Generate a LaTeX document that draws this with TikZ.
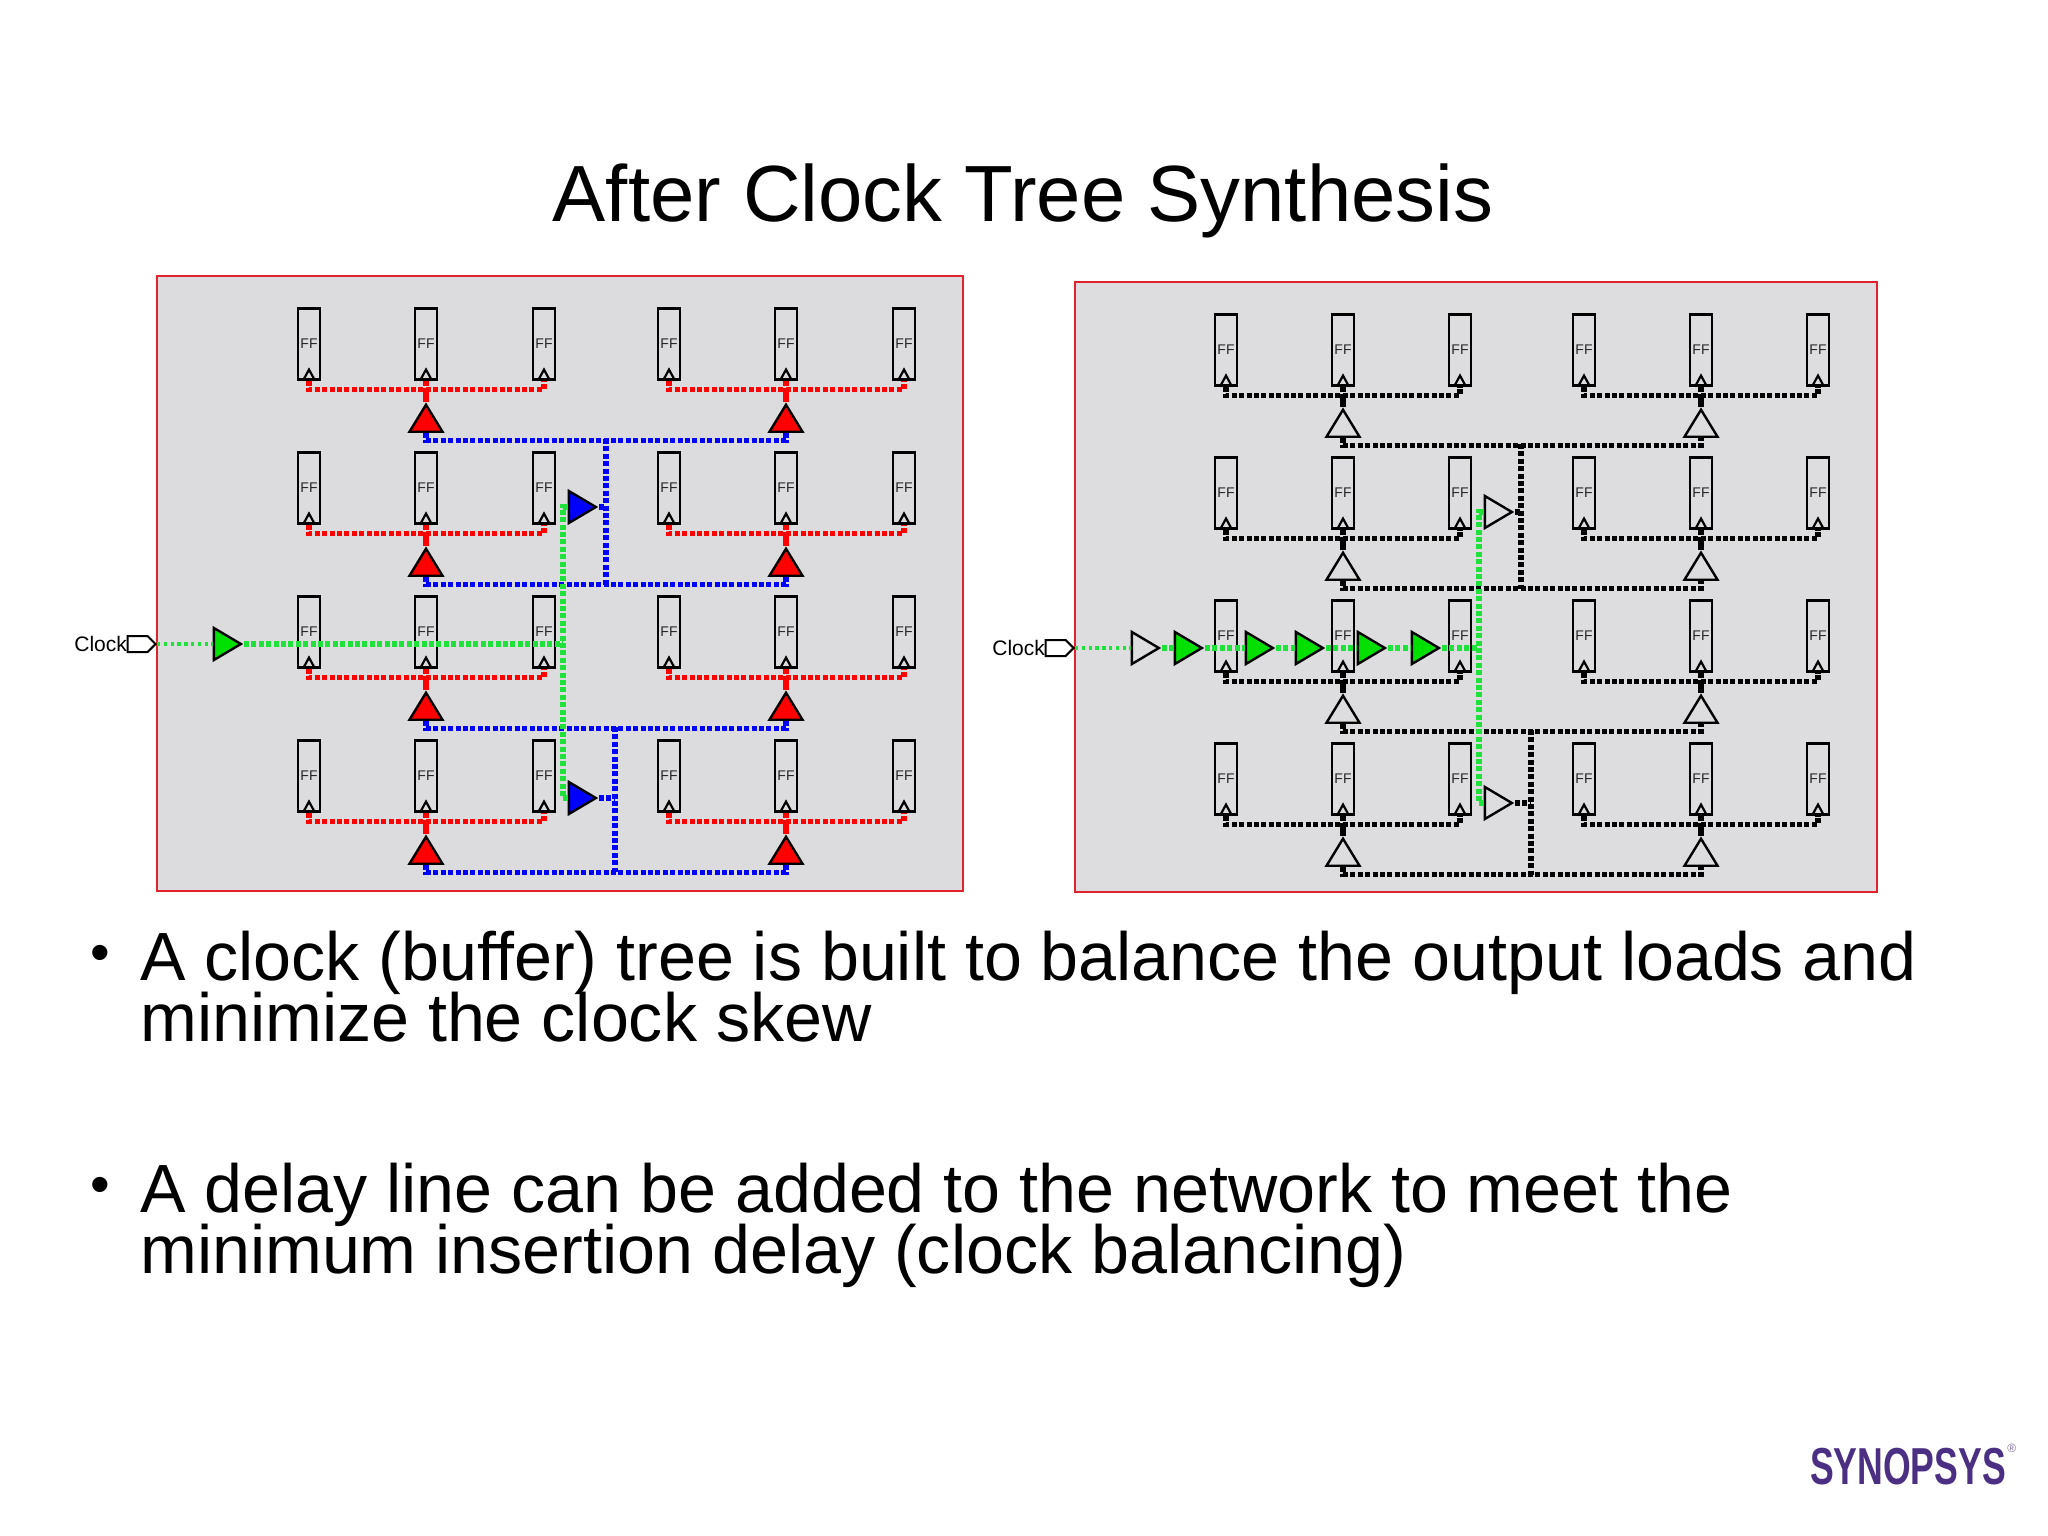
\documentclass[tikz,border=0pt]{standalone}
\usepackage{fontspec}
\setmainfont{Liberation Sans}
\usetikzlibrary{shapes.geometric, shapes.symbols, positioning}

\definecolor{leftpanel}{HTML}{DCDCDE}
\definecolor{rightpanel}{HTML}{DDDDE0}
\definecolor{framered}{HTML}{E0222E}
\definecolor{wiregreen}{HTML}{1EE23A}
\definecolor{bufgreen}{HTML}{00E000}
\definecolor{logopurple}{HTML}{4B2F83}

\tikzset{
    panel/.style={draw=framered, line width=2.5pt},
    ffbox/.style={rectangle, draw=black, line width=2.6pt, anchor=north, inner sep=0pt,
                  minimum width=22pt, minimum height=71pt, text=black!85,
                  font=\fontsize{14}{14}\selectfont},
    ffclk/.style={draw=black, line width=2.2pt},
    buffer/.style={isosceles triangle, isosceles triangle stretches, draw=black, line width=2.4pt,
                   inner sep=0pt, anchor=apex},
    bufup/.style={buffer, shape border rotate=90, minimum width=33pt, minimum height=27pt},
    bufright/.style={buffer, minimum width=32pt, minimum height=27pt},
    wire/.style={line width=5.4pt, dash pattern=on 5pt off 2.4pt},
    stem/.style={line width=5.4pt},
    clkport/.style={signal, signal to=east, draw=black, line width=2pt, inner sep=0pt,
                    minimum width=28pt, minimum height=16pt, anchor=east},
    clklabel/.style={inner sep=0pt, font=\fontsize{21}{21}\selectfont},
    inwire/.style={draw=wiregreen, line width=3.4pt, dash pattern=on 3.4pt off 3.4pt},
    bullettext/.style={anchor=north west, inner sep=0pt, align=left,
                       font=\fontsize{68.2}{61}\selectfont},
    bulletdot/.style={anchor=base west, inner sep=0pt, font=\fontsize{56}{56}\selectfont}
}

\begin{document}
\begin{tikzpicture}[x=1pt, y=-1pt]

    \useasboundingbox (0,0) rectangle (2048,1536);

    % Title
    \node[inner sep=0pt, font=\fontsize{79.7}{80}\selectfont] (title) at (1023,201) {After Clock Tree Synthesis};

    % Panels
    \path[panel, fill=leftpanel] (157,276) rectangle (963,891);
    \path[panel, fill=rightpanel] (1075,282) rectangle (1877,892);

    % Left flip-flops
    \foreach \r/\ytop in {1/307, 2/451, 3/595, 4/739}
        \foreach \c/\x in {1/309, 2/426, 3/544, 4/669, 5/786, 6/904} {
            \node[ffbox] (lff\r\c) at (\x,\ytop) {FF};
            \draw[ffclk] ([xshift=-6pt]lff\r\c.south) -- ([yshift=11pt]lff\r\c.south) -- ([xshift=6pt]lff\r\c.south);
        };

    % Left buffers and leaf wires
    \foreach \r in {1,2,3,4}
        \foreach \a/\b/\c in {1/2/3, 4/5/6} {
            \node[bufup, fill=red] (lbuf\r\b) at ([yshift=-21pt]lff\r\b.south) {};
            \coordinate (lbus\r\b) at ([yshift=-9pt]lff\r\b.south);
            \draw[wire, red] (lff\r\a.south) |- (lbus\r\b) -| (lff\r\c.south);
            \draw[wire, red] (lff\r\b.south) -- (lbus\r\b);
            \draw[stem, red] (lbus\r\b) -- (lbuf\r\b.apex);
        };

    % Left blue level
    \foreach \r in {1,2,3,4}
        \draw[wire, blue] (lbuf\r2.lower side) -- ++(0,7.5) -| (lbuf\r5.lower side);
    \node[bufright, fill=blue] (ldly1) at (599,507) {};
    \node[bufright, fill=blue] (ldly2) at (599,798) {};
    \coordinate (ltap1) at (606,439);
    \coordinate (ltap2) at (606,585);
    \coordinate (ltap3) at (615,727);
    \coordinate (ltap4) at (615,872);
    \draw[wire, blue] (ltap1) -- (ltap2);
    \draw[wire, blue] (ltap3) -- (ltap4);
    \draw[wire, blue] (ldly1.apex) -- (ltap1 |- ldly1.apex);
    \draw[wire, blue] (ldly2.apex) -- (ltap3 |- ldly2.apex);

    % Left clock input
    \node[clkport] (lport) at (157,644) {};
    \node[clklabel, left=-0.5pt of lport] (lclock) {Clock};
    \node[bufright, fill=bufgreen] (lgrn) at (244,644) {};
    \coordinate (lspine) at (563,644);
    \draw[inwire] (lport.east) -- (lgrn.lower side);
    \draw[wire, wiregreen] (lgrn.apex) -- (lspine);
    \draw[wire, wiregreen] (ldly1.lower side) -| (lspine) |- (ldly2.lower side);

    % Right flip-flops
    \foreach \r/\ytop in {1/313, 2/456, 3/599, 4/742}
        \foreach \c/\x in {1/1226, 2/1343, 3/1460, 4/1584, 5/1701, 6/1818} {
            \node[ffbox] (rff\r\c) at (\x,\ytop) {FF};
            \draw[ffclk] ([xshift=-6pt]rff\r\c.south) -- ([yshift=11pt]rff\r\c.south) -- ([xshift=6pt]rff\r\c.south);
        };

    % Right buffers and leaf wires
    \foreach \r in {1,2,3,4}
        \foreach \a/\b/\c in {1/2/3, 4/5/6} {
            \node[bufup] (rbuf\r\b) at ([yshift=-20pt]rff\r\b.south) {};
            \coordinate (rbus\r\b) at ([yshift=-9pt]rff\r\b.south);
            \draw[wire, black] (rff\r\a.south) |- (rbus\r\b) -| (rff\r\c.south);
            \draw[wire, black] (rff\r\b.south) -- (rbus\r\b);
            \draw[stem, black] (rbus\r\b) -- (rbuf\r\b.apex);
        };

    % Right upper level
    \foreach \r in {1,2,3,4}
        \draw[wire, black] (rbuf\r2.lower side) -- ++(0,7.5) -| (rbuf\r5.lower side);
    \node[bufright] (rdly1) at (1515,512) {};
    \node[bufright] (rdly2) at (1515,803) {};
    \coordinate (rtap1) at (1521,444);
    \coordinate (rtap2) at (1521,589);
    \coordinate (rtap3) at (1531,730);
    \coordinate (rtap4) at (1531,875);
    \draw[wire, black] (rtap1) -- (rtap2);
    \draw[wire, black] (rtap3) -- (rtap4);
    \draw[wire, black] (rdly1.apex) -- (rtap1 |- rdly1.apex);
    \draw[wire, black] (rdly2.apex) -- (rtap3 |- rdly2.apex);

    % Right clock input and delay line
    \node[clkport] (rport) at (1075,648) {};
    \node[clklabel, left=-0.5pt of rport] (rclock) {Clock};
    \node[bufright] (rgrn0) at (1162,648) {};
    \node[bufright, fill=bufgreen] (rgrn1) at (1205,648) {};
    \node[bufright, fill=bufgreen] (rgrn2) at (1276,648) {};
    \node[bufright, fill=bufgreen] (rgrn3) at (1326,648) {};
    \node[bufright, fill=bufgreen] (rgrn4) at (1388,648) {};
    \node[bufright, fill=bufgreen] (rgrn5) at (1442,648) {};
    \coordinate (rspine) at (1479,648);
    \draw[inwire] (rport.east) -- (rgrn0.lower side);
    \foreach \a/\b in {0/1, 1/2, 2/3, 3/4, 4/5}
        \draw[wire, wiregreen] (rgrn\a.apex) -- (rgrn\b.lower side);
    \draw[wire, wiregreen] (rgrn5.apex) -- (rspine);
    \draw[wire, wiregreen] (rdly1.lower side) -| (rspine) |- (rdly2.lower side);

    % Bullets
    \node[bulletdot] (dot1) at (90,971) {•};
    \node[bullettext] (item1) at (140,931) {A clock (buffer) tree is built to balance the output loads and\\[-3.5pt]minimize the clock skew};
    \node[bulletdot] (dot2) at (90,1203) {•};
    \node[bullettext] (item2) at (140,1163) {A delay line can be added to the network to meet the\\[-3.5pt]minimum insertion delay (clock balancing)};

    % Logo
    \node[inner sep=0pt, text=logopurple, font=\fontsize{52}{52}\bfseries\selectfont] (logo) at (1908,1467) {\scalebox{.685}[1]{SYNOPSYS}};
    \node[inner sep=0pt, text=logopurple!70, font=\fontsize{12}{12}\selectfont, right=1pt of logo.north east] (regmark) {®};

\end{tikzpicture}
\end{document}
